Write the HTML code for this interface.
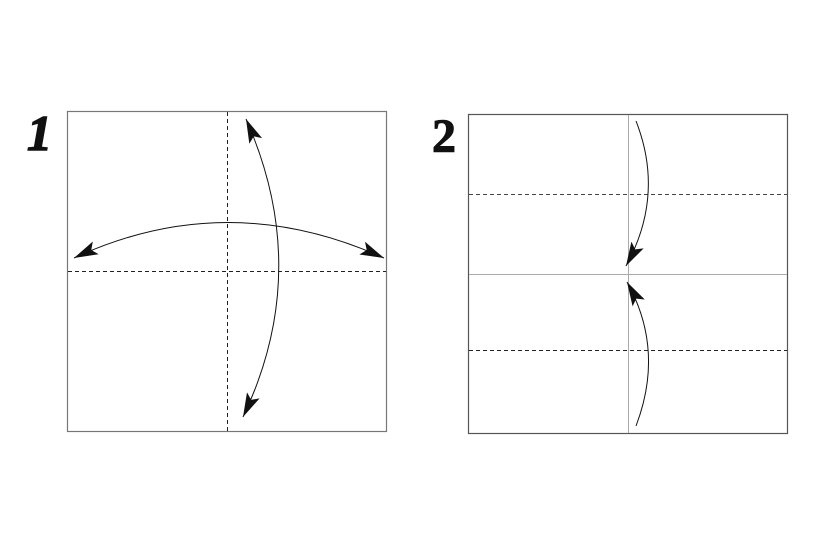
<!DOCTYPE html>
<html><head><style>html,body{margin:0;padding:0;background:#fff;width:830px;height:553px;overflow:hidden}</style></head>
<body>
<svg width="830" height="553" viewBox="0 0 830 553" xmlns="http://www.w3.org/2000/svg">
<defs>
<marker id="a" viewBox="0 0 24 14" refX="24" refY="7" markerWidth="24" markerHeight="14" markerUnits="userSpaceOnUse" orient="auto-start-reverse">
<path d="M0,0 L24,7 L0,14 L5,7 Z" fill="#111"/>
</marker>
</defs>
<text x="27" y="150" font-family="Liberation Serif, serif" font-weight="bold" font-style="italic" font-size="50" fill="#111" stroke="#111" stroke-width="1.5">1</text>
<text x="432" y="152" font-family="Liberation Serif, serif" font-weight="bold" font-size="48" fill="#111" stroke="#111" stroke-width="1">2</text>
<rect x="67.5" y="111.5" width="319" height="320" fill="none" stroke="#777" stroke-width="1.2"/>
<line x1="227.5" y1="112" x2="227.5" y2="431" stroke="#222" stroke-dasharray="4,3"/>
<line x1="68" y1="271.5" x2="386" y2="271.5" stroke="#222" stroke-dasharray="4,3"/>
<path d="M74,258 Q227,187 384,258" fill="none" stroke="#111" stroke-width="1" marker-start="url(#a)" marker-end="url(#a)"/>
<path d="M246,119 Q313,270 243,417" fill="none" stroke="#111" stroke-width="1" marker-start="url(#a)" marker-end="url(#a)"/>
<rect x="468.5" y="114.5" width="319" height="319" fill="none" stroke="#555" stroke-width="1.2"/>
<line x1="628.5" y1="115" x2="628.5" y2="433" stroke="#aaa"/>
<line x1="469" y1="274.5" x2="787" y2="274.5" stroke="#aaa"/>
<line x1="469" y1="194.5" x2="787" y2="194.5" stroke="#444" stroke-dasharray="4,3"/>
<line x1="469" y1="350.5" x2="787" y2="350.5" stroke="#222" stroke-dasharray="4,3"/>
<path d="M636,121 Q665,195 626,266" fill="none" stroke="#111" stroke-width="1" marker-end="url(#a)"/>
<path d="M636,426 Q665,350 627,282" fill="none" stroke="#111" stroke-width="1" marker-end="url(#a)"/>
</svg>
</body></html>
